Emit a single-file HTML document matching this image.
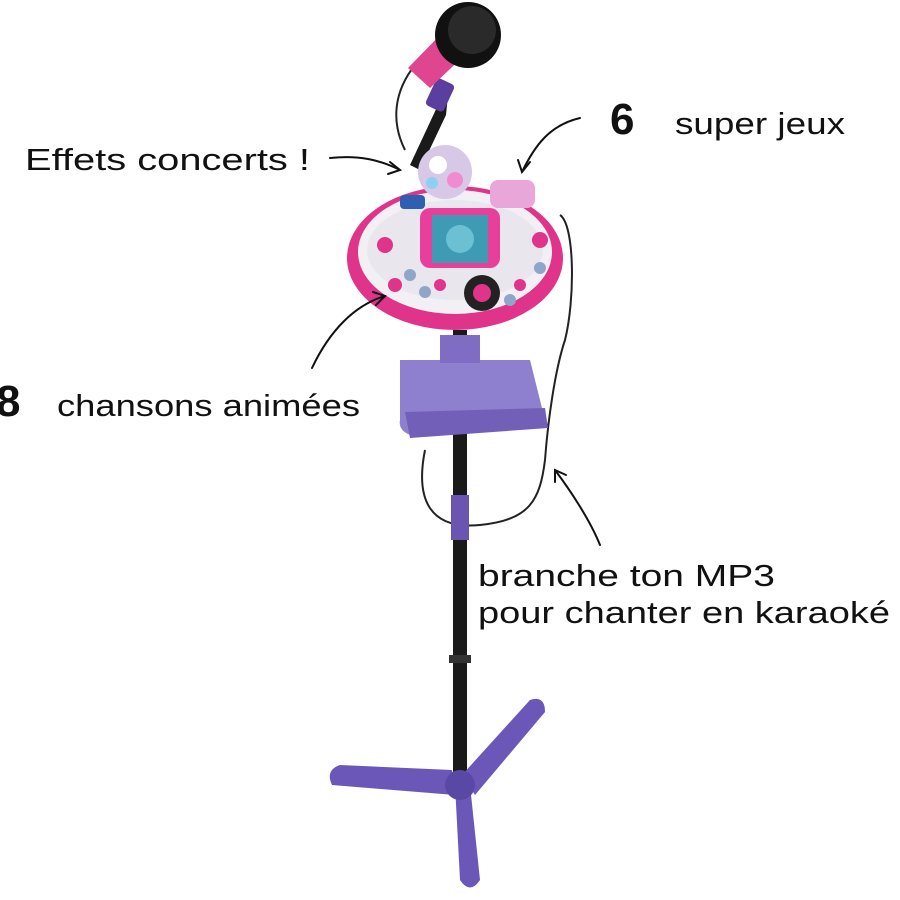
<!DOCTYPE html>
<html><head><meta charset="utf-8"><style>
html,body{margin:0;padding:0;background:#fff;}
svg{display:block}
text{font-family:"Liberation Sans",sans-serif;fill:#111}
</style></head><body>
<svg width="900" height="900" viewBox="0 0 900 900" xmlns="http://www.w3.org/2000/svg">
<rect width="900" height="900" fill="#fff"/>
<g fill="none" stroke="#222" stroke-width="2">
<path d="M415 65 C395 90 390 120 405 150"/>
<path d="M560 215 C575 225 575 300 565 340 C555 370 548 420 545 460 C540 500 530 520 480 525 C430 530 415 500 425 450"/>
</g>
<rect x="453" y="330" width="14" height="450" fill="#1a1a1a"/>
<rect x="451" y="495" width="18" height="45" fill="#6a55b0"/>
<rect x="449" y="655" width="22" height="8" fill="#333"/>
<path d="M448 95 L438 105 L410 165 L420 170 L446 115 Z" fill="#1a1a1a"/>
<rect x="430" y="80" width="20" height="30" rx="4" fill="#5a3fa0" transform="rotate(25 440 95)"/>
<path d="M408 68 L445 30 L470 50 L430 88 Z" fill="#e0458f"/>
<circle cx="468" cy="35" r="33" fill="#111"/>
<circle cx="472" cy="30" r="24" fill="#2a2a2a"/>
<g fill="#6b57b8">
<path d="M452 770 L340 765 Q325 770 332 785 L455 795 Z"/>
<path d="M462 775 L530 700 Q545 695 545 712 L475 795 Z"/>
<path d="M455 785 L470 785 L480 880 Q470 895 460 880 Z"/>
</g>
<circle cx="460" cy="785" r="15" fill="#5a48a5"/>
<path d="M400 360 L530 360 L545 420 L410 435 Q398 430 400 420 Z" fill="#8f80cf"/>
<path d="M405 412 L545 408 L548 428 L410 438 Z" fill="#7260b8"/>
<rect x="440" y="335" width="40" height="28" fill="#7f6dc4"/>
<ellipse cx="455" cy="258" rx="108" ry="72" fill="#e0338a"/>
<ellipse cx="455" cy="252" rx="97" ry="62" fill="#f2f0f4"/>
<ellipse cx="455" cy="250" rx="88" ry="50" fill="#e9e6ee"/>
<rect x="420" y="208" width="80" height="60" rx="10" fill="#e8409a"/>
<rect x="432" y="215" width="56" height="48" fill="#3e9bb3"/>
<circle cx="460" cy="239" r="14" fill="#6cc0d4"/>
<circle cx="482" cy="293" r="18" fill="#222"/>
<circle cx="482" cy="293" r="9" fill="#e0338a"/>
<g fill="#e0338a">
<circle cx="385" cy="245" r="8"/><circle cx="540" cy="240" r="8"/><circle cx="395" cy="285" r="7"/>
<circle cx="520" cy="285" r="6"/><circle cx="440" cy="285" r="6"/>
</g>
<g fill="#8fa6c9">
<circle cx="410" cy="275" r="6"/><circle cx="425" cy="292" r="6"/><circle cx="540" cy="268" r="6"/><circle cx="510" cy="300" r="6"/>
</g>
<rect x="490" y="180" width="45" height="28" rx="8" fill="#e9a6d8"/>
<rect x="400" y="195" width="25" height="14" rx="4" fill="#2f5fb0"/>
<circle cx="445" cy="172" r="27" fill="#d7c8e8"/>
<circle cx="438" cy="165" r="9" fill="#fff"/>
<circle cx="455" cy="180" r="8" fill="#f08bd0"/>
<circle cx="432" cy="183" r="6" fill="#8fd0f0"/>
<g fill="none" stroke="#111" stroke-width="2" stroke-linecap="round">
<path d="M330 158 C360 155 380 160 400 170"/><path d="M390 162 L400 170 L388 174"/>
<path d="M580 118 C550 125 535 145 522 172"/><path d="M518 160 L522 172 L530 162"/>
<path d="M312 368 C330 330 355 305 385 296"/><path d="M373 292 L385 296 L376 305"/>
<path d="M600 545 C590 520 570 490 555 470"/><path d="M555 482 L555 470 L566 475"/>
</g>
<text x="25" y="170" font-size="31" textLength="285" lengthAdjust="spacingAndGlyphs">Effets concerts !</text>
<text x="610" y="134" font-size="44" font-weight="bold">6</text>
<text x="675" y="134" font-size="31" textLength="170" lengthAdjust="spacingAndGlyphs">super jeux</text>
<text x="-4" y="416" font-size="44" font-weight="bold">8</text>
<text x="57" y="416" font-size="31" textLength="303" lengthAdjust="spacingAndGlyphs">chansons animées</text>
<text x="478" y="586" font-size="31" textLength="297" lengthAdjust="spacingAndGlyphs">branche ton MP3</text>
<text x="478" y="623" font-size="31" textLength="412" lengthAdjust="spacingAndGlyphs">pour chanter en karaoké</text>
</svg>
</body></html>
